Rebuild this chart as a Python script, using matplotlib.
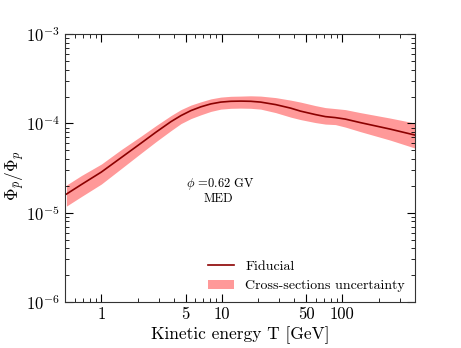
import matplotlib
matplotlib.use("Agg")
import matplotlib.pyplot as plt
from matplotlib.ticker import LogLocator, NullFormatter

plt.rcParams['font.family'] = 'serif'
plt.rcParams['font.serif'] = ['cmr10', 'DejaVu Serif']
plt.rcParams['mathtext.fontset'] = 'cm'
plt.rcParams['axes.formatter.use_mathtext'] = True

# Kinetic energy [GeV]
T = [0.514, 0.683, 1.0, 1.464, 2.141, 2.848, 3.789, 4.584, 5.544, 6.706,
     8.11, 9.81, 11.87, 14.36, 17.36, 21.0, 27.94, 37.2, 44.98, 59.8,
     72.35, 87.5, 105.9, 140.8, 249.2, 401]
fiducial = [1.618e-5, 2.067e-5, 2.851e-5, 4.145e-5, 6.023e-5, 7.998e-5,
            1.048e-4, 1.224e-4, 1.392e-4, 1.535e-4, 1.654e-4, 1.733e-4,
            1.769e-4, 1.778e-4, 1.769e-4, 1.733e-4, 1.625e-4, 1.484e-4,
            1.373e-4, 1.256e-4, 1.192e-4, 1.162e-4, 1.118e-4, 1.022e-4,
            8.640e-5, 7.404e-5]
upper = [2.040e-5, 2.606e-5, 3.505e-5, 5.094e-5, 7.216e-5, 9.456e-5,
         1.224e-4, 1.428e-4, 1.604e-4, 1.746e-4, 1.883e-4, 1.971e-4,
         2.012e-4, 2.023e-4, 2.038e-4, 2.023e-4, 1.946e-4, 1.824e-4,
         1.733e-4, 1.583e-4, 1.503e-4, 1.466e-4, 1.428e-4, 1.322e-4,
         1.148e-4, 1.009e-4]
lower = [1.187e-5, 1.517e-5, 2.094e-5, 3.122e-5, 4.656e-5, 6.260e-5,
         8.313e-5, 9.956e-5, 1.133e-4, 1.249e-4, 1.363e-4, 1.446e-4,
         1.476e-4, 1.484e-4, 1.476e-4, 1.446e-4, 1.322e-4, 1.177e-4,
         1.104e-4, 1.022e-4, 9.829e-5, 9.703e-5, 9.099e-5, 8.100e-5,
         6.507e-5, 5.294e-5]

xticks = [1, 5, 10, 50, 100]
xticklabels = ['1', '5', '10', '50', '100']

fig = plt.figure(figsize=(4.61, 3.48), dpi=100)
ax = fig.add_axes([0.141, 0.132, 0.759, 0.770])

ax.fill_between(T, lower, upper, color='#ff9999', lw=0,
                label='Cross-sections uncertainty')
ax.plot(T, fiducial, color='#8b0000', lw=1.2, label='Fiducial')

ax.set_xscale('log')
ax.set_yscale('log')
ax.set_xlim(0.5, 400)
ax.set_ylim(1e-6, 1e-3)

ax.set_xticks(xticks)
ax.set_xticklabels(xticklabels)
ax.xaxis.set_minor_locator(LogLocator(base=10, subs=[2, 3, 4, 6, 7, 8, 9], numticks=20))
ax.xaxis.set_minor_formatter(NullFormatter())
ax.yaxis.set_minor_locator(LogLocator(base=10, subs=range(2, 10), numticks=20))
ax.yaxis.set_minor_formatter(NullFormatter())

ax.tick_params(which='both', direction='in', top=True, right=True, labelsize=12)
ax.tick_params(which='major', length=6)
ax.tick_params(which='minor', length=3)
for s in ax.spines.values():
    s.set_color('#333333')

ax.set_xlabel('Kinetic energy T [GeV]', fontsize=12.5, labelpad=3)
ax.set_ylabel(r'$\Phi_{\bar{p}}/\Phi_p$', fontsize=12.5)
ax.yaxis.set_label_coords(-0.11, 0.47)

ax.text(0.443, 0.44, r'$\phi$ =0.62 GV', transform=ax.transAxes,
        ha='center', va='center', fontsize=9)
ax.text(0.437, 0.384, 'MED', transform=ax.transAxes,
        ha='center', va='center', fontsize=9)

h, l = ax.get_legend_handles_labels()
ax.legend(h[::-1], l[::-1], loc='lower right', frameon=False, fontsize=10,
          handlelength=1.9, handletextpad=0.8, borderaxespad=0.3)

fig.savefig('out.png', dpi=100)
